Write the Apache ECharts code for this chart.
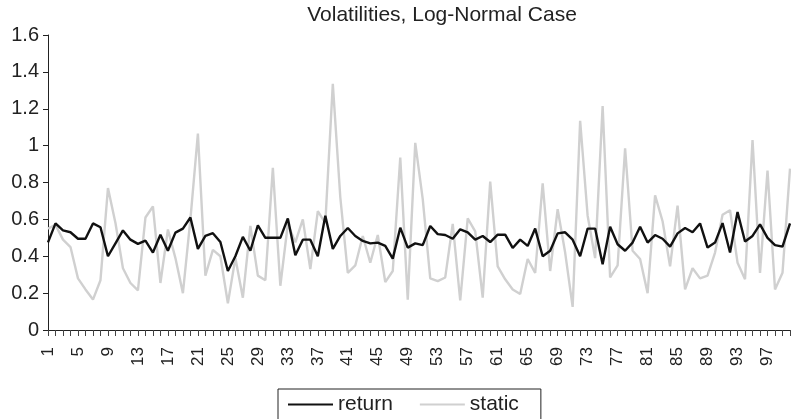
<!DOCTYPE html>
<html><head><meta charset="utf-8">
<script src="https://cdn.jsdelivr.net/npm/echarts@6/dist/echarts.min.js"></script>
<style>html,body{margin:0;padding:0;background:#fff}#c{width:791px;height:419px}</style>
</head><body><div id="c"></div>
<script>
const categories = Array.from({length:100}, (_, i) => String(i + 1));
const returnVol = [0.475,0.578,0.54,0.53,0.495,0.495,0.578,0.557,0.40,0.47,
0.54,0.49,0.467,0.485,0.42,0.517,0.43,0.528,0.55,0.61,
0.44,0.51,0.525,0.477,0.32,0.40,0.505,0.43,0.568,0.50,
0.50,0.50,0.605,0.405,0.49,0.49,0.40,0.62,0.44,0.51,
0.553,0.51,0.483,0.47,0.474,0.456,0.387,0.555,0.447,0.47,
0.46,0.564,0.52,0.515,0.495,0.546,0.53,0.49,0.51,0.477,
0.517,0.517,0.445,0.49,0.456,0.55,0.40,0.43,0.524,0.53,
0.49,0.40,0.55,0.55,0.357,0.56,0.465,0.43,0.474,0.56,
0.474,0.515,0.495,0.452,0.524,0.553,0.53,0.578,0.447,0.474,
0.58,0.42,0.64,0.48,0.51,0.573,0.50,0.46,0.452,0.578];
const staticVol = [0.55,0.57,0.49,0.45,0.28,0.22,0.165,0.27,0.77,0.58,
0.335,0.255,0.215,0.61,0.67,0.255,0.545,0.39,0.2,0.6,
1.065,0.295,0.435,0.4,0.145,0.39,0.175,0.565,0.295,0.27,
0.88,0.24,0.575,0.475,0.6,0.33,0.645,0.58,1.335,0.72,
0.31,0.35,0.51,0.365,0.515,0.26,0.32,0.935,0.165,1.015,
0.71,0.28,0.265,0.285,0.575,0.16,0.605,0.535,0.175,0.805,
0.345,0.275,0.22,0.195,0.385,0.31,0.795,0.32,0.655,0.42,
0.125,1.135,0.62,0.39,1.215,0.285,0.35,0.985,0.43,0.385,
0.2,0.73,0.59,0.345,0.675,0.22,0.335,0.28,0.295,0.42,
0.625,0.65,0.365,0.275,1.03,0.31,0.865,0.22,0.31,0.875];
const titleText = 'Volatilities, Log-Normal Case';
const seriesNames = ['return', 'static'];

const font = "'Liberation Sans', Arial, sans-serif";
const chart = echarts.init(document.getElementById('c'), null, {renderer:'canvas'});
chart.setOption({
  animation: false,
  backgroundColor: '#fff',
  title: {
    text: titleText, left: 437, top: 0, textAlign: 'center',
    textStyle: {fontFamily: font, fontSize: 21, fontWeight: 'normal', color: '#222'}
  },
  legend: {
    data: seriesNames,
    left: 278, top: 389,
    orient: 'horizontal',
    icon: 'rect', itemWidth: 45, itemHeight: 2, itemGap: 27,
    borderColor: '#222', borderWidth: 1, borderRadius: 0,
    padding: [5, 22, 12, 10],
    textStyle: {fontFamily: font, fontSize: 21, color: '#222'}
  },
  grid: {left: 48, right: 1, top: 35, bottom: 89, containLabel: false},
  xAxis: {
    type: 'category', data: categories, boundaryGap: false,
    axisLine: {lineStyle: {color: '#222', width: 1}},
    axisTick: {show: true, interval: 0, length: 6, inside: false, lineStyle: {color: '#444'}},
    axisLabel: {interval: 3, rotate: 90, margin: 17, fontFamily: font, fontSize: 17, color: '#222'},
    splitLine: {show: false}
  },
  yAxis: {
    type: 'value', min: 0, max: 1.6, interval: 0.2,
    axisLine: {show: true, lineStyle: {color: '#222', width: 1}},
    axisTick: {show: true, length: 5, lineStyle: {color: '#222'}},
    axisLabel: {margin: 9, fontFamily: font, fontSize: 20, color: '#222',
      formatter: v => String(Math.round(v * 10) / 10)},
    splitLine: {show: false}
  },
  series: [
    {name: seriesNames[0], type: 'line', data: returnVol, showSymbol: false, symbol: 'none',
     lineStyle: {color: '#111', width: 2.4}, itemStyle: {color: '#111'}, z: 3},
    {name: seriesNames[1], type: 'line', data: staticVol, showSymbol: false, symbol: 'none',
     lineStyle: {color: '#d0d0d0', width: 2.4}, itemStyle: {color: '#d0d0d0'}, z: 2}
  ]
});
</script></body></html>
